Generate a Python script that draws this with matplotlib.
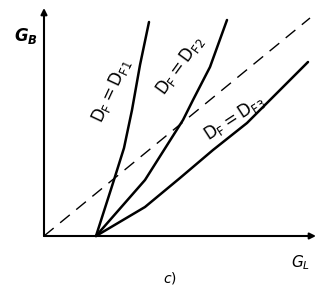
import matplotlib
matplotlib.use("Agg")
import matplotlib.pyplot as plt

plt.rcParams["font.family"] = ["DejaVu Sans"]
plt.rcParams["mathtext.default"] = "regular"

# Kennlinien (willkürliche Einheiten G_L / G_B)
gl_f1 = [2.6, 3.45, 4.0, 4.4, 4.8, 5.25]
gb_f1 = [0.0, 2.65, 4.4, 6.3, 8.55, 10.7]

gl_f2 = [2.6, 5.05, 6.95, 7.45, 8.3, 9.15]
gb_f2 = [0.0, 2.8, 5.8, 6.8, 8.45, 10.8]

gl_f3 = [2.6, 5.05, 6.8, 8.45, 10.15, 11.8, 13.2]
gb_f3 = [0.0, 1.45, 2.9, 4.3, 5.65, 7.3, 8.7]

# Diagonale (gestrichelt)
gl_diag = [0.0, 13.3]
gb_diag = [0.0, 10.9]

labels = [r"$D_F = D_{F1}$", r"$D_F = D_{F2}$", r"$D_F = D_{F3}$"]


def main():
    fig = plt.figure(figsize=(3.18, 2.89), dpi=100)
    ax = fig.add_axes([0, 0, 1, 1])
    ax.set_xlim(-2.2, 13.7)
    ax.set_ylim(-2.65, 11.8)
    ax.axis("off")

    # Achsen mit Pfeilen
    arrow = dict(arrowstyle="-|>", lw=1.5, color="black", mutation_scale=9,
                 shrinkA=0, shrinkB=0)
    ax.annotate("", xy=(0, 11.4), xytext=(0, 0), arrowprops=arrow)
    ax.annotate("", xy=(13.6, 0), xytext=(0, 0), arrowprops=arrow)

    ax.plot(gl_diag, gb_diag, color="black", lw=1.0, ls=(0, (9, 6)))

    for gl, gb in [(gl_f1, gb_f1), (gl_f2, gb_f2), (gl_f3, gb_f3)]:
        ax.plot(gl, gb, color="black", lw=1.8, solid_capstyle="round",
                solid_joinstyle="round")

    # Beschriftungen an den Kurven
    ax.text(3.35, 7.25, labels[0], rotation=65, fontsize=12,
            ha="center", va="center")
    ax.text(6.8, 8.55, labels[1], rotation=54, fontsize=12,
            ha="center", va="center")
    ax.text(9.5, 5.9, labels[2], rotation=33, fontsize=12,
            ha="center", va="center")

    ax.text(-0.9, 10.0, r"$\mathbfit{G_B}$", fontsize=12,
            ha="center", va="center")
    ax.text(12.85, -1.35, r"$\mathit{G_L}$", fontsize=11,
            ha="center", va="center")
    ax.text(6.3, -2.1, r"$\mathit{c)}$", fontsize=10,
            ha="center", va="center")

    fig.savefig("out.png", dpi=100)


if __name__ == "__main__":
    main()
